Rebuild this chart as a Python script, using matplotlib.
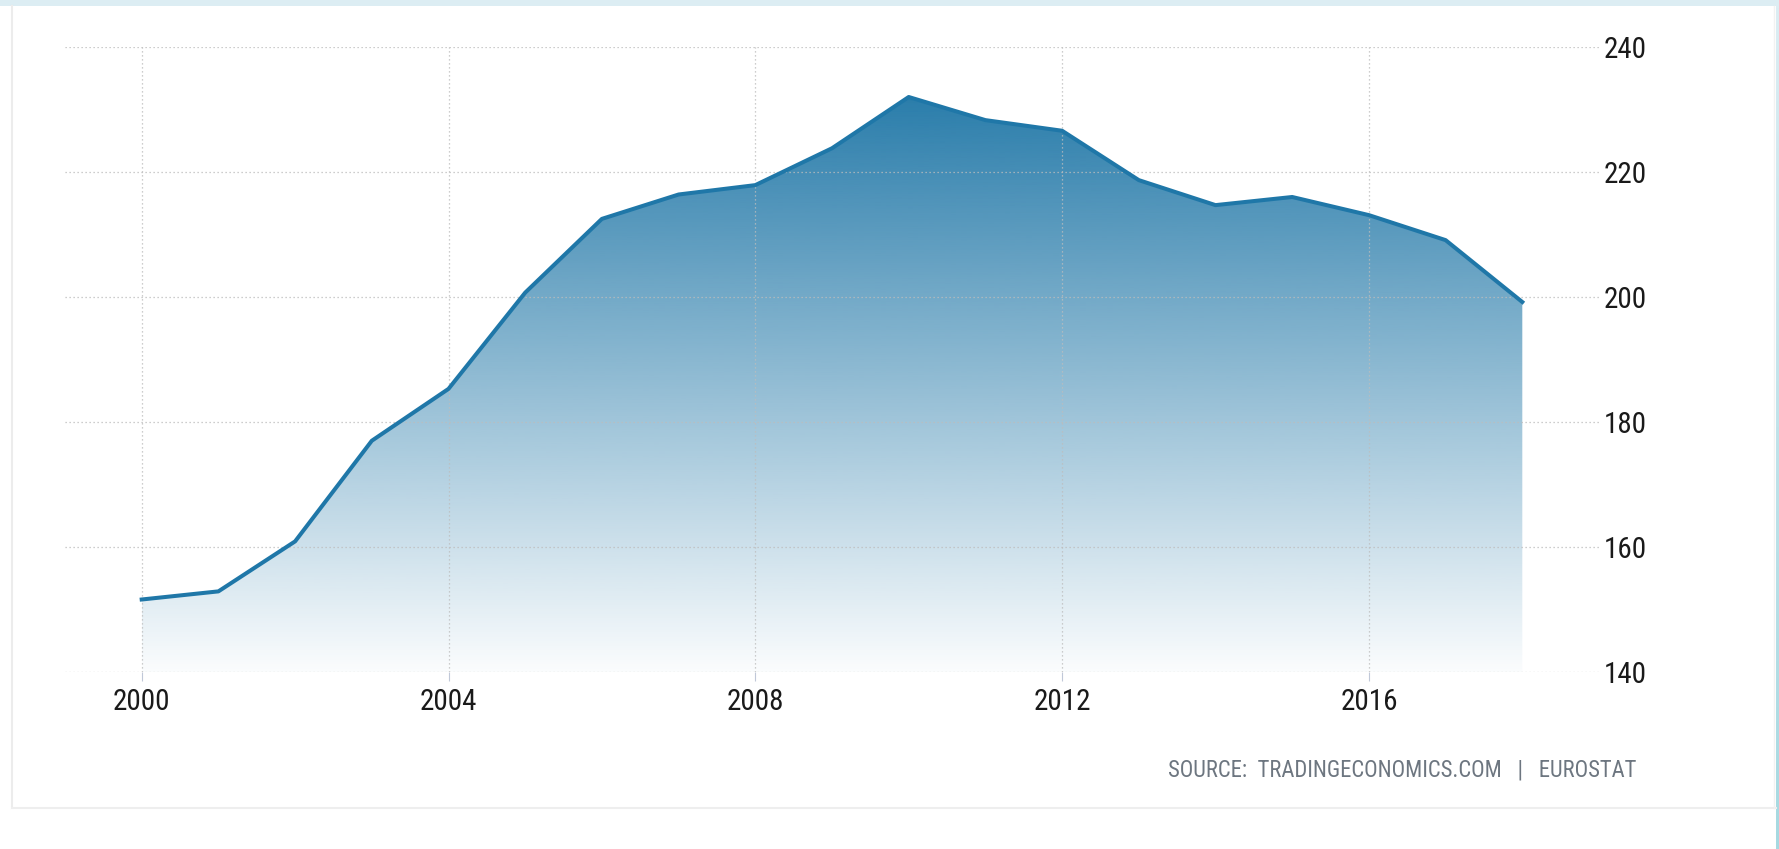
import numpy as np
import matplotlib
matplotlib.use("Agg")
import matplotlib.pyplot as plt
from matplotlib import font_manager as fm
from matplotlib.colors import to_rgb
from matplotlib.lines import Line2D
from matplotlib.patches import Rectangle

# ---- data -------------------------------------------------------------
years = [2000, 2001, 2002, 2003, 2004, 2005, 2006, 2007, 2008, 2009,
         2010, 2011, 2012, 2013, 2014, 2015, 2016, 2017, 2018]
values = [151.6, 152.9, 160.9, 177.0, 185.3, 200.7, 212.5, 216.4, 217.9,
          223.8, 232.0, 228.3, 226.6, 218.7, 214.7, 216.0, 213.1, 209.1, 199.2]
x_ticks = [2000, 2004, 2008, 2012, 2016]
y_ticks = [140, 160, 180, 200, 220, 240]
source_text = "SOURCE:  TRADINGECONOMICS.COM   |   EUROSTAT"

# ---- fonts ------------------------------------------------------------
available = {f.name for f in fm.fontManager.ttflist}
label_font = next((f for f in ["Liberation Sans Narrow", "Roboto Condensed",
                                "Open Sans", "DejaVu Sans"] if f in available),
                  "DejaVu Sans")

W, H = 1779, 849
fig = plt.figure(figsize=(W / 100, H / 100), dpi=100)
fig.patch.set_facecolor("white")

def fx(px):
    return px / W

def fy(py):
    return 1 - py / H

# ---- page frame -------------------------------------------------------
fig.add_artist(Rectangle((0, fy(6)), 1, 6 / H, transform=fig.transFigure,
                         color="#dcedf3", lw=0, zorder=0))
fig.add_artist(Line2D([fx(12), fx(12)], [fy(6), fy(808)], transform=fig.transFigure,
                      color="#ececec", lw=1.5))
fig.add_artist(Line2D([fx(12), fx(1776)], [fy(808), fy(808)], transform=fig.transFigure,
                      color="#eeeeee", lw=1.5))
fig.add_artist(Line2D([fx(1774), fx(1774)], [fy(6), fy(808)], transform=fig.transFigure,
                      color="#f2f2f2", lw=1))

strip = fig.add_axes([fx(1776), 0, 3 / W, fy(6)])
strip_grad = np.linspace(0, 1, 256).reshape(-1, 1)
c_top, c_bot = np.array(to_rgb("#dcedf3")), np.array(to_rgb("#a6d9e1"))
strip_img = c_top[None, None, :] * (1 - strip_grad[..., None]) + c_bot[None, None, :] * strip_grad[..., None]
strip.imshow(strip_img, aspect="auto", extent=[0, 1, 0, 1])
strip.set_axis_off()

# ---- main chart -------------------------------------------------------
ax = fig.add_axes([fx(65), fy(672), fx(1599) - fx(65), (672 - 47) / H])
ax.set_xlim(1999.0, 2019.0)
ax.set_ylim(140, 240)
for s in ax.spines.values():
    s.set_visible(False)
ax.set_facecolor("none")

line_color = "#1f77a8"
fill_color = np.array(to_rgb("#2a7dab"))

# gradient fill under the line
poly = ax.fill_between(years, values, 140, color="none", lw=0)
n = 256
alpha = np.linspace(1.0, 0.02, n)
grad = np.zeros((n, 1, 4))
grad[:, 0, :3] = fill_color
grad[:, 0, 3] = alpha
img = ax.imshow(grad, aspect="auto", origin="upper",
                extent=[years[0], years[-1], 140, max(values)], zorder=1)
img.set_clip_path(poly.get_paths()[0], transform=ax.transData)

ax.plot(years, values, color=line_color, lw=2.9, solid_joinstyle="round", zorder=3)

# grid
ax.set_axisbelow("line")
ax.set_xticks(x_ticks)
ax.set_yticks(y_ticks)
ax.grid(True, color="#bdbdbd", lw=0.9, linestyle=(0, (1, 2.2)))

ax.tick_params(axis="x", length=6.5, width=0.8, color="#c0c8d8", pad=5,
               labelsize=21, labelcolor="#1a1a1a")
ax.tick_params(axis="y", length=0, pad=3.5, labelsize=21, labelcolor="#1a1a1a",
               left=False, right=False, labelleft=False, labelright=True)
for lab in ax.get_xticklabels() + ax.get_yticklabels():
    lab.set_fontfamily(label_font)

fig.text(fx(1636), fy(777), source_text, ha="right", va="baseline",
         fontsize=16.3, color="#6d7680", family=label_font)

fig.savefig("out.png", dpi=100)
